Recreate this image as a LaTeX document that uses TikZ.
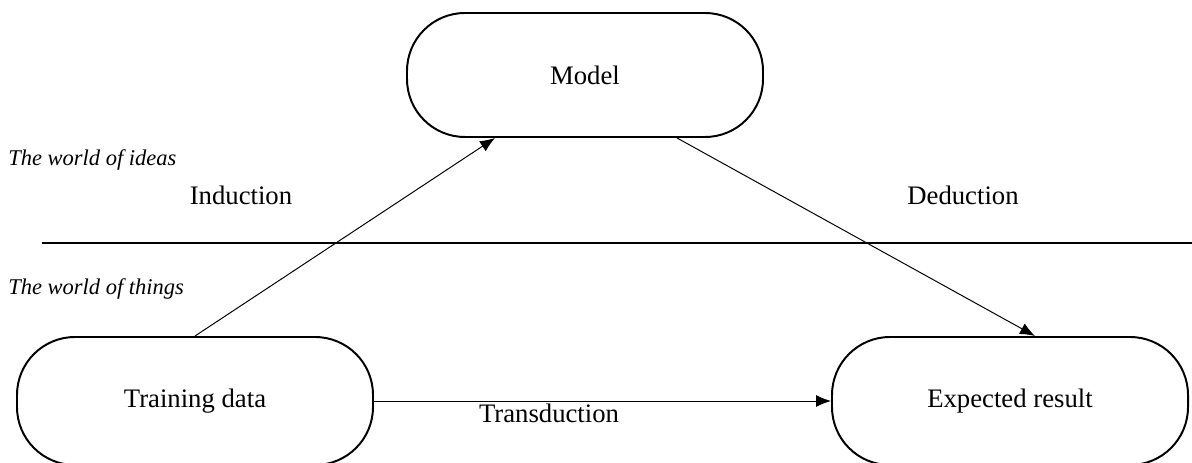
\documentclass[tikz,border=0pt]{standalone}
\usepackage{fontspec}
\setmainfont{Liberation Serif}
\usetikzlibrary{arrows.meta}
\tikzset{
  stadium/.style = {draw, line width=1.4pt, rounded corners=1.45cm,
                    minimum width=8.9cm, minimum height=3.1cm,
                    font=\fontsize{19}{22}\selectfont},
  linktext/.style = {anchor=base, inner sep=0pt, font=\fontsize{19}{22}\selectfont},
  world/.style = {anchor=base west, inner sep=0pt,
                  font=\fontsize{16}{19}\selectfont\itshape},
  link/.style = {-{Latex[length=3.75mm,width=3mm]}, line width=0.7pt}
}

\begin{document}
\begin{tikzpicture}
  \useasboundingbox (0,0) rectangle (29.8,11.55);
  \node[stadium] (model)  at (14.625,9.675) {Model};
  % the lower boxes run past the bottom edge
  \node[stadium, minimum height=3.2cm] (train)  at (4.875,1.525) {Training data};
  \node[stadium, minimum height=3.2cm] (result) at (25.25,1.525) {Expected result};
  \coordinate (lineL) at (1.05,5.475);
  \coordinate (lineR) at (29.8,5.475);
  \draw[line width=1.4pt] (lineL) -- (lineR);
  \node[world] (ideas)  at (0.2,7.4)   {The world of ideas};
  \node[world] (things) at (0.2,4.175) {The world of things};
  \node[linktext] (ind)   at (6.025,6.425)  {Induction};
  \node[linktext] (ded)   at (24.075,6.425) {Deduction};
  \node[linktext] (trans) at (13.725,0.975) {Transduction};
  \draw[link] (train.north) -- ([xshift=-2.25cm]model.south);
  \draw[link] ([xshift=2.3cm]model.south) -- ([xshift=0.625cm]result.north);
  \draw[link] (train.east) -- (result.west);
\end{tikzpicture}
\end{document}
